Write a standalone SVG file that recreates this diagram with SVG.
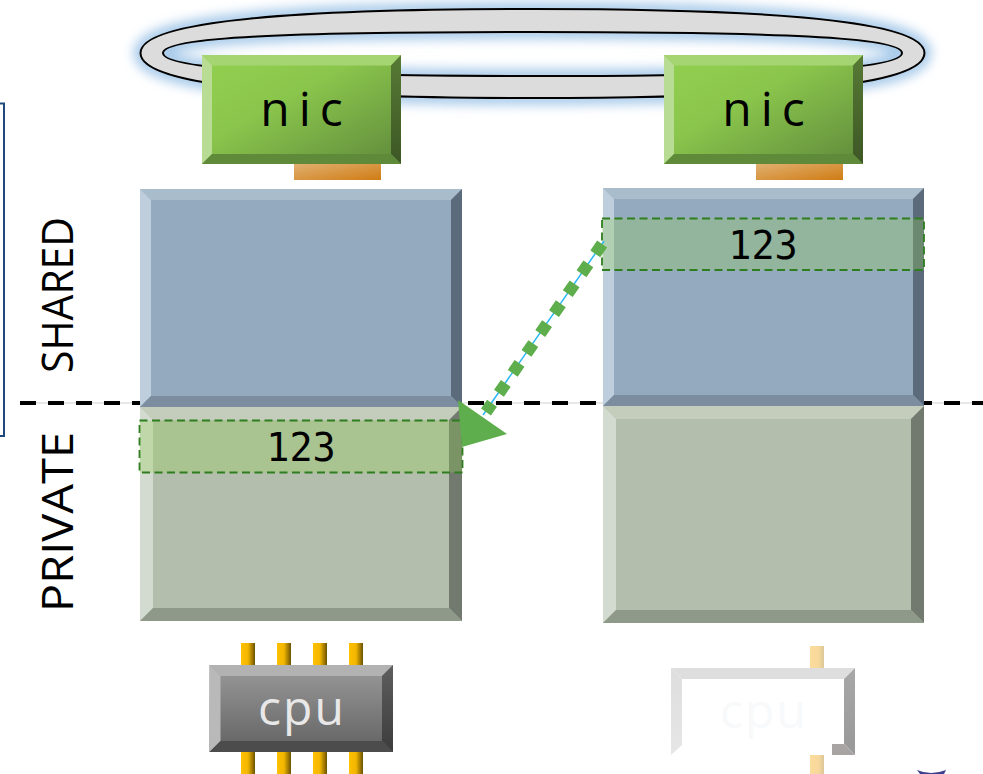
<svg xmlns="http://www.w3.org/2000/svg" width="983" height="774" viewBox="0 0 983 774">
<style>
text{font-family:"Open Sans",sans-serif;text-anchor:middle}
.t43{font-size:43px;fill:#000}
.t48{font-size:48px;letter-spacing:9px}
.t48c{font-size:48px;letter-spacing:2px}
.t37{font-family:"DejaVu Sans Mono",monospace;font-size:38.500px;fill:#000}
.ring{fill:#dcdcdc;fill-rule:evenodd;stroke:#000;stroke-width:2}
.hl{fill:#92d050;fill-opacity:.3;stroke:#2e7d1e;stroke-width:1.800;stroke-dasharray:8 4.500}
.sf{fill:#94aabf}.st{fill:#a9bccb}.sl{fill:#bfcedd}.sr{fill:#5b6b7b}.sb{fill:#7b8d9f}
.pf{fill:#b3bfac}.pt{fill:#c4cdbc}.pl{fill:#d3dad0}.pr{fill:#727a6f}.pb{fill:#8f998a}
.nf{fill:url(#nicFace)}.nt{fill:#a5d573}.nl{fill:#b9dc95}.nr{fill:url(#nicRight)}.nb{fill:#5f8a3a}
.cf{fill:url(#cpuFace)}.ct{fill:#b2b2b2}.cl{fill:#b9b9b9}.cr{fill:url(#cpuRight)}.cb{fill:#4c4c4c}
.pin{fill:url(#pinG)}.pin2{fill:url(#pinL)}.pad{fill:url(#padG)}
</style>
<defs>
<filter id="glow" x="-5%" y="-40%" width="110%" height="180%"><feGaussianBlur stdDeviation="5.500"/></filter>
<path id="ringPath" d="M140.500 53C140.500 20 300 9 532.500 9C765 9 924.500 20 924.500 53C924.500 87 765 98 532.500 98C300 98 140.500 87 140.500 53ZM163 53C163 69 290 76 532.500 76C775 76 902 69 902 53C902 37 775 32 532.500 32C290 32 163 37 163 53Z"/>
<linearGradient id="nicFace" x1="0" y1="0" x2="1" y2="1"><stop offset="0" stop-color="#92d050"/><stop offset=".4" stop-color="#8bc64c"/><stop offset="1" stop-color="#5f8a3c"/></linearGradient>
<linearGradient id="nicRight" x1="0" y1="0" x2="0" y2="1"><stop offset="0" stop-color="#577a35"/><stop offset="1" stop-color="#3d5725"/></linearGradient>
<linearGradient id="cpuFace" x1="0" y1="0" x2="0" y2="1"><stop offset="0" stop-color="#9a9a9a"/><stop offset="1" stop-color="#626262"/></linearGradient>
<linearGradient id="cpuRight" x1="0" y1="0" x2="0" y2="1"><stop offset="0" stop-color="#5e5e5e"/><stop offset="1" stop-color="#3c3c3c"/></linearGradient>
<linearGradient id="ghostLeft" x1="0" y1="0" x2="0" y2="1"><stop offset="0" stop-color="#dedede"/><stop offset="1" stop-color="#e6e6e6"/></linearGradient>
<linearGradient id="ghostRight" x1="0" y1="0" x2="0" y2="1"><stop offset="0" stop-color="#a8a8a8"/><stop offset="1" stop-color="#989898"/></linearGradient>
<linearGradient id="pinG"><stop offset="0" stop-color="#ffc000"/><stop offset=".5" stop-color="#f2b600"/><stop offset="1" stop-color="#6b5200"/></linearGradient>
<linearGradient id="pinL"><stop offset="0" stop-color="#fbdc9b"/><stop offset=".6" stop-color="#f8d99c"/><stop offset="1" stop-color="#dcc698"/></linearGradient>
<linearGradient id="padG" x1="0" y1="0" x2="1" y2="1"><stop offset="0" stop-color="#e0b070"/><stop offset="1" stop-color="#d07c14"/></linearGradient>
</defs>

<rect width="983" height="774" fill="#fff"/>
<g id="frame"><path d="M0 103.500H4V436H0" fill="none" stroke="#1f497d" stroke-width="2"/></g>

<g id="ring">
<use href="#ringPath" filter="url(#glow)" fill="none" stroke="#a9cbea" stroke-width="14"/>
<use href="#ringPath" class="ring"/>
</g>

<g id="divider">
<line x1="20" y1="403" x2="983" y2="403" stroke="#e8e8e8" stroke-width="2"/>
<line x1="20" y1="403" x2="983" y2="403" stroke="#000" stroke-width="4" stroke-dasharray="16 12"/>
</g>

<g id="nic-left">
<rect class="pad" x="294" y="164" width="87" height="16"/>
<rect class="nf" x="202" y="55" width="199" height="109"/>
<polygon class="nt" points="202,55 401,55 391,65.500 212,65.500"/>
<polygon class="nl" points="202,55 212,65.500 212,154 202,164"/>
<polygon class="nr" points="401,55 401,164 391,154 391,65.500"/>
<polygon class="nb" points="202,164 212,154 391,154 401,164"/>
<text class="t48" x="306" y="126" fill="#000">nic</text>
</g>

<g id="nic-right">
<rect class="pad" x="756" y="164" width="87" height="16"/>
<rect class="nf" x="664" y="55" width="199" height="109"/>
<polygon class="nt" points="664,55 863,55 853,65.500 674,65.500"/>
<polygon class="nl" points="664,55 674,65.500 674,154 664,164"/>
<polygon class="nr" points="863,55 863,164 853,154 853,65.500"/>
<polygon class="nb" points="664,164 674,154 853,154 863,164"/>
<text class="t48" x="768" y="126" fill="#000">nic</text>
</g>

<g id="shared-left">
<rect class="sf" x="140" y="189" width="322" height="218"/>
<polygon class="st" points="140,189 462,189 451,200 151,200"/>
<polygon class="sl" points="140,189 151,200 151,396 140,407"/>
<polygon class="sr" points="462,189 462,407 451,396 451,200"/>
<polygon class="sb" points="140,407 151,396 451,396 462,407"/>
</g>

<g id="shared-right">
<rect class="sf" x="603" y="188" width="321" height="218"/>
<polygon class="st" points="603,188 924,188 913,199 614,199"/>
<polygon class="sl" points="603,188 614,199 614,395 603,406"/>
<polygon class="sr" points="924,188 924,406 913,395 913,199"/>
<polygon class="sb" points="603,406 614,395 913,395 924,406"/>
</g>

<g id="private-left">
<rect class="pf" x="140" y="407" width="322" height="214"/>
<polygon class="pt" points="140,407 462,407 449,420 153,420"/>
<polygon class="pl" points="140,407 153,420 153,608 140,621"/>
<polygon class="pr" points="462,407 462,621 449,608 449,420"/>
<polygon class="pb" points="140,621 153,608 449,608 462,621"/>
</g>

<g id="private-right">
<rect class="pf" x="603" y="406" width="321" height="217"/>
<polygon class="pt" points="603,406 924,406 911,419 616,419"/>
<polygon class="pl" points="603,406 616,419 616,610 603,623"/>
<polygon class="pr" points="924,406 924,623 911,610 911,419"/>
<polygon class="pb" points="603,623 616,610 911,610 924,623"/>
</g>

<g id="value-left">
<rect class="hl" x="139.500" y="420.500" width="323" height="52"/>
<text class="t37" x="301" y="461">123</text>
</g>
<g id="value-right">
<rect class="hl" x="602" y="218.500" width="322" height="51.500"/>
<text class="t37" x="763" y="259">123</text>
</g>

<g id="connectors">
<line x1="604" y1="241" x2="483" y2="415" stroke="#29b6f6" stroke-width="1.500"/>
<line x1="602.100" y1="244" x2="486" y2="412" stroke="#5fae4d" stroke-width="12" stroke-dasharray="12 12.200"/>
<polygon points="458,400 507,434 462,447" fill="#5fae4d"/>
</g>

<g id="label-shared"><text class="t43" transform="translate(73 295) rotate(-90)" textLength="156" lengthAdjust="spacingAndGlyphs">SHARED</text></g>
<g id="label-private"><text class="t43" transform="translate(73 522) rotate(-90)" textLength="180" lengthAdjust="spacingAndGlyphs">PRIVATE</text></g>

<g id="cpu-left">
<rect class="pin" x="241" y="643" width="14" height="22"/><rect class="pin" x="277" y="643" width="14" height="22"/><rect class="pin" x="313" y="643" width="14" height="22"/><rect class="pin" x="349" y="643" width="14" height="22"/>
<rect class="pin" x="241" y="752" width="14" height="22"/><rect class="pin" x="277" y="752" width="14" height="22"/><rect class="pin" x="313" y="752" width="14" height="22"/><rect class="pin" x="349" y="752" width="14" height="22"/>
<rect class="cf" x="209.500" y="665" width="183.500" height="87"/>
<polygon class="ct" points="209.500,665 393,665 382,676 220.500,676"/>
<polygon class="cl" points="209.500,665 220.500,676 220.500,741 209.500,752"/>
<polygon class="cr" points="393,665 393,752 382,741 382,676"/>
<polygon class="cb" points="209.500,752 220.500,741 382,741 393,752"/>
<text class="t48c" x="302" y="725" fill="#e8e8e8">cpu</text>
</g>

<g id="cpu-right">
<rect class="pin2" x="810" y="646" width="14" height="22"/>
<rect class="pin2" x="810" y="755" width="14" height="19"/>
<polygon points="671,668 855,668 844,679 682,679" fill="#dedede"/>
<polygon points="671,668 682,679 682,745 671,755" fill="url(#ghostLeft)"/>
<polygon points="855,668 855,755 844,744 844,679" fill="url(#ghostRight)"/>
<polygon points="832,744 844,744 855,755 832,755" fill="#a8a4a4"/>
<text class="t48c" x="764" y="728" fill="#f8f9fa">cpu</text>
</g>

<g id="corner-mark"><path d="M917 770Q931 776 946 770L944 774H920Z" fill="#3f3f8f"/></g>
</svg>
